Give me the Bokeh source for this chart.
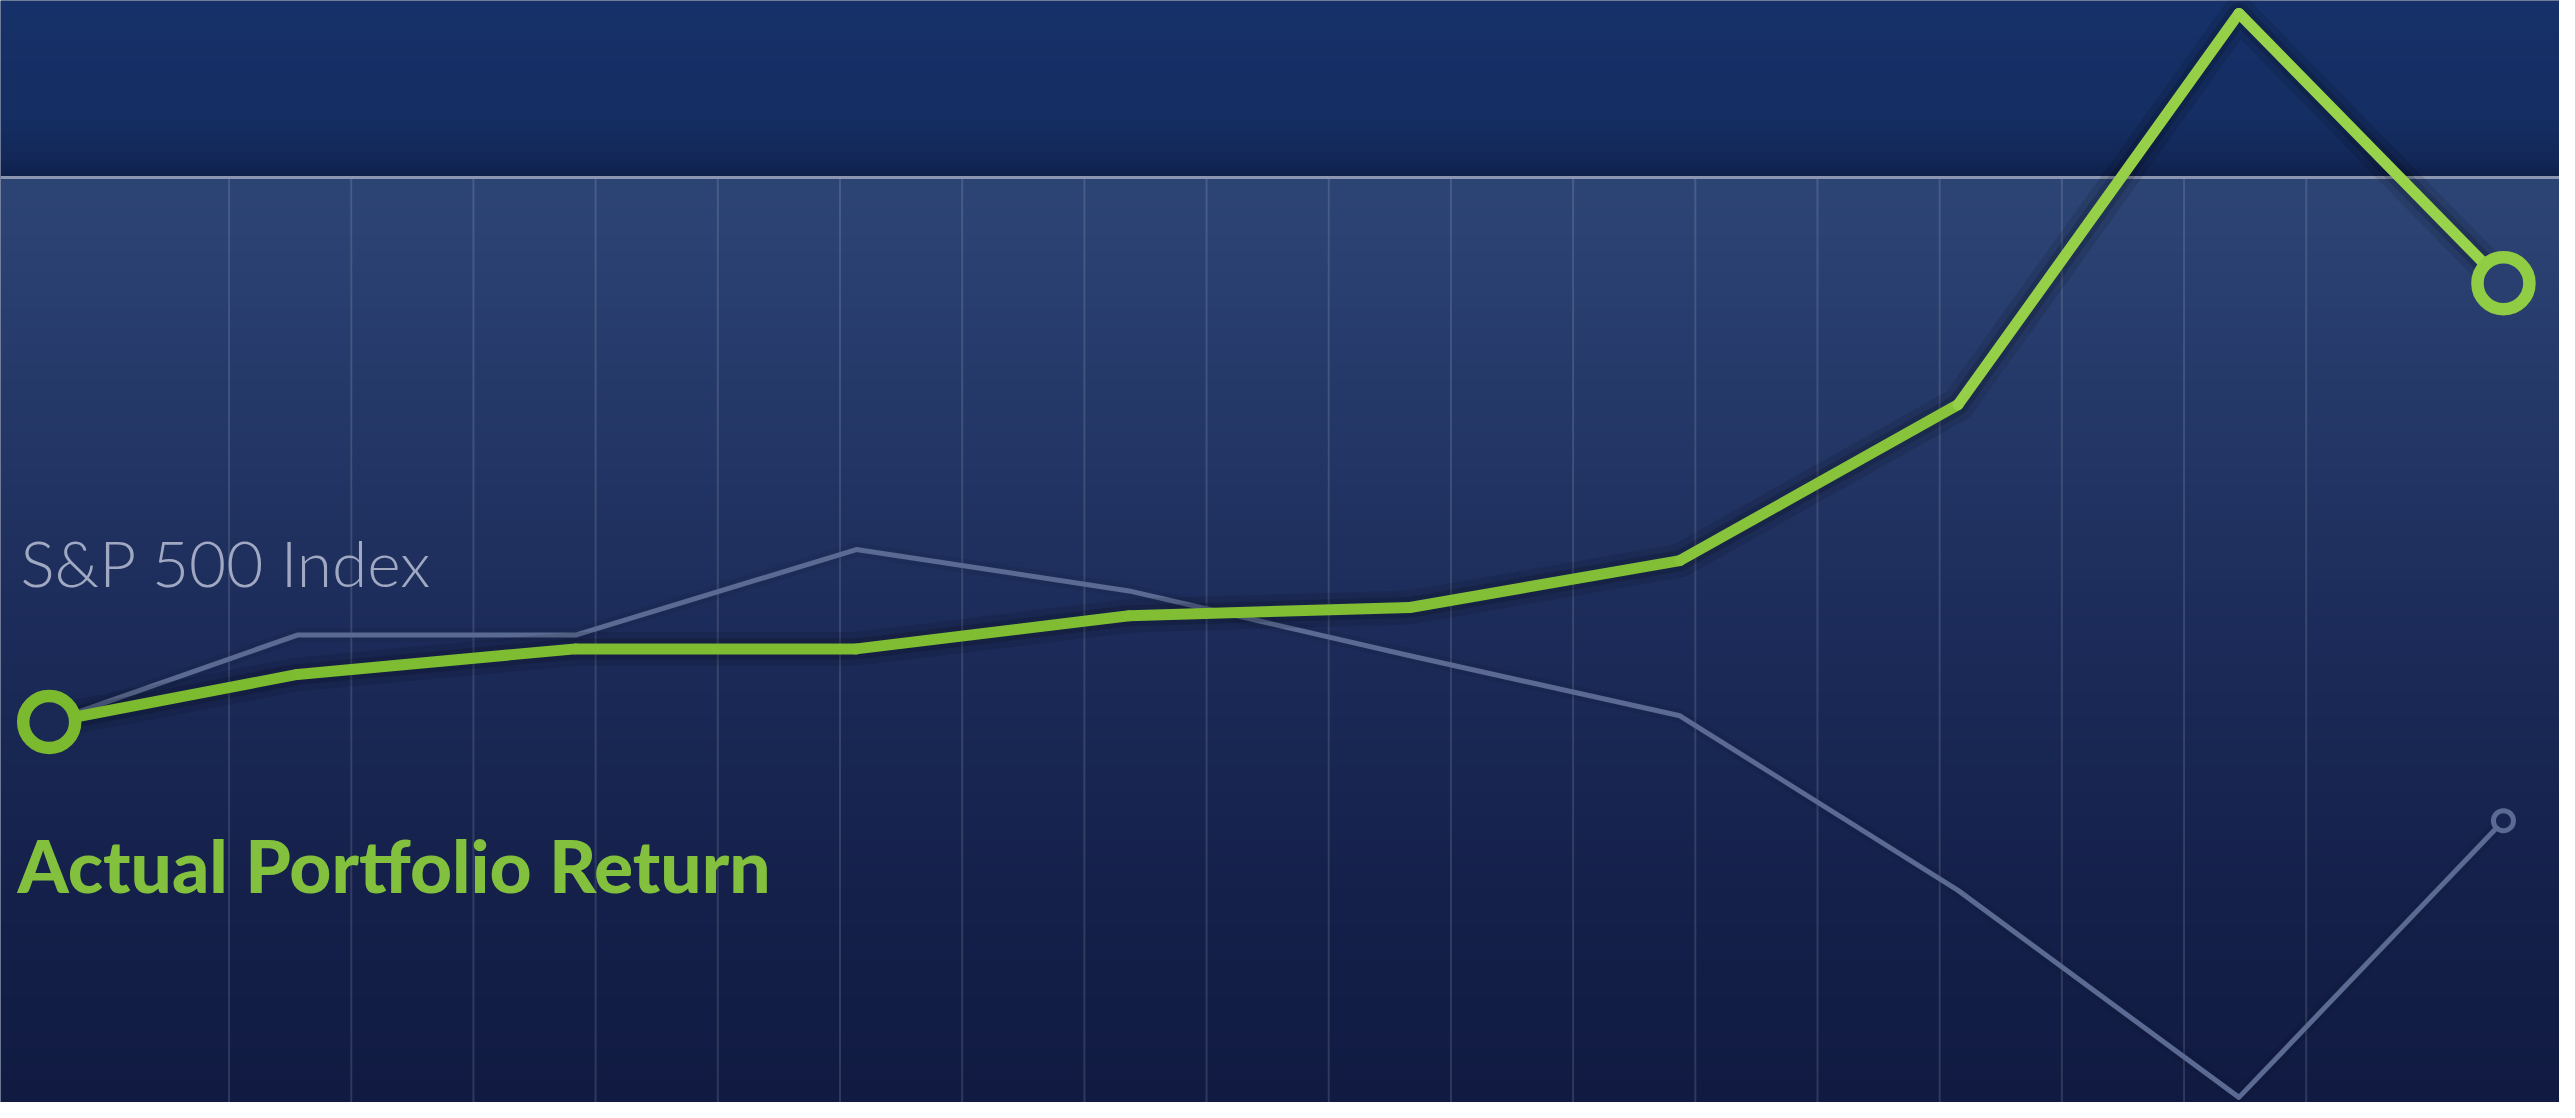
import numpy as np
from bokeh.plotting import figure
from bokeh.models import Label, Range1d
from bokeh.embed import file_html
from bokeh.resources import INLINE

# ---------------- data (cumulative return, %) ----------------
periods = [0, 0.91, 1.93, 2.96, 3.96, 4.99, 5.98, 7.0, 8.03, 9.0]
portfolio_return = [0, 6.9, 10.6, 10.6, 15.4, 16.6, 23.4, 46.0, 102.7, 63.6]
sp500_return = [0, 12.6, 12.6, 25.0, 19.0, 9.6, 0.9, -24.4, -54.4, -14.3]
series_labels = ["S&P 500 Index", "Actual Portfolio Return"]

# ---------------- layout / style ----------------
W, H = 2559, 1102
REF_W, REF_H = 2575, 1118
X0_PX, X_PX_PER = 49.0, 274.4      # reference pixel mapping
Y0_PX, Y_PX_PER = 732.0, 7.0

def px_to_x(px):
    return (px - X0_PX) / X_PX_PER

def px_to_y(py):
    return (Y0_PX - py) / Y_PX_PER

def y_to_px(v):
    return Y0_PX - v * Y_PX_PER

x_start, x_end = px_to_x(0), px_to_x(REF_W)
y_start, y_end = px_to_y(REF_H), px_to_y(0)

GREY = "#5b6a92"

def green_at(py):
    t = min(max(py / 750.0, 0.0), 1.0)
    top, bot = (160, 218, 82), (122, 184, 46)
    c = [int(round(a + (b - a) * t)) for a, b in zip(top, bot)]
    return "#%02x%02x%02x" % tuple(c)

# background gradient stops (reference pixel row, rgb)
top_stops = [(0, (23, 50, 106)), (120, (21, 46, 99)), (160, (19, 40, 88)), (179, (15, 32, 74))]
low_stops = [(181, (45, 69, 117)), (350, (39, 60, 108)), (650, (28, 43, 89)),
             (900, (21, 33, 75)), (1118, (17, 27, 66))]
SEP_PX = 180

def interp(stops, py):
    ys = [s[0] for s in stops]
    return [np.interp(py, ys, [s[1][c] for s in stops]) for c in range(3)]

def bg_rgb(py):
    return interp(top_stops if py < SEP_PX else low_stops, py)

def bg_hex(py):
    r, g, b = [int(round(v)) for v in bg_rgb(py)]
    return "#%02x%02x%02x" % (r, g, b)

rows = REF_H
img = np.empty((rows, 2), dtype=np.uint32)
view = img.view(dtype=np.uint8).reshape((rows, 2, 4))
for r in range(rows):
    py = REF_H - 1 - r
    cr, cg, cb = bg_rgb(py)
    view[r, :, 0] = int(cr)
    view[r, :, 1] = int(cg)
    view[r, :, 2] = int(cb)
    view[r, :, 3] = 255

p = figure(width=W, height=H, output_backend="svg", toolbar_location=None,
           x_range=Range1d(x_start, x_end), y_range=Range1d(y_start, y_end),
           x_axis_type=None, y_axis_type=None, min_border=0,
           outline_line_color=None, background_fill_color="#1b2a5a",
           border_fill_color="#1b2a5a")
p.grid.visible = False

p.image_rgba(image=[img], x=x_start, y=y_start, dw=x_end - x_start, dh=y_end - y_start)

# vertical grid (below separator only)
sep_v = px_to_y(SEP_PX)
grid_x = [px_to_x(230 + 122.95 * i) for i in range(18)]
p.segment(x0=grid_x, y0=[y_start] * len(grid_x), x1=grid_x, y1=[sep_v] * len(grid_x),
          line_color="#ffffff", line_alpha=0.13, line_width=2)

# separator
p.hspan(y=[sep_v], line_color="#8d96b0", line_width=3)

# S&P 500 line
p.line(periods, sp500_return, line_color="#000000", line_alpha=0.06, line_width=14, line_join="round")
p.line(periods, sp500_return, line_color=GREY, line_width=5, line_join="round")
p.scatter([periods[-1]], [sp500_return[-1]], size=20, line_width=5,
          line_color=GREY, fill_color=bg_hex(y_to_px(sp500_return[-1])))

# Portfolio line (shadow + vertical colour gradient per segment)
p.line(periods, portfolio_return, line_color="#000000", line_alpha=0.10, line_width=34, line_join="round")
p.line(periods, portfolio_return, line_color="#000000", line_alpha=0.14, line_width=21, line_join="round")
seg_x = [[periods[i], periods[i + 1]] for i in range(len(periods) - 1)]
seg_y = [[portfolio_return[i], portfolio_return[i + 1]] for i in range(len(periods) - 1)]
seg_c = [green_at(y_to_px((portfolio_return[i] + portfolio_return[i + 1]) / 2))
         for i in range(len(periods) - 1)]
p.multi_line(xs=seg_x, ys=seg_y, line_color=seg_c, line_width=11, line_cap="round", line_join="round")
ends = [0, len(periods) - 1]
p.scatter([periods[i] for i in ends], [portfolio_return[i] for i in ends], size=52,
          line_width=12.5, line_color=[green_at(y_to_px(portfolio_return[i])) for i in ends],
          fill_color=[bg_hex(y_to_px(portfolio_return[i])) for i in ends])

p.add_layout(Label(x=px_to_x(20), y=px_to_y(570), text=series_labels[0],
                   text_font="Lato Light", text_font_size="64px", text_color="#a0a8c2",
                   text_baseline="alphabetic"))
p.add_layout(Label(x=px_to_x(17), y=px_to_y(877), text=series_labels[1],
                   text_font="Lato Black", text_font_size="73px",
                   text_color="#82c03e", text_baseline="alphabetic"))

open("out.html", "w").write(file_html(p, INLINE))
